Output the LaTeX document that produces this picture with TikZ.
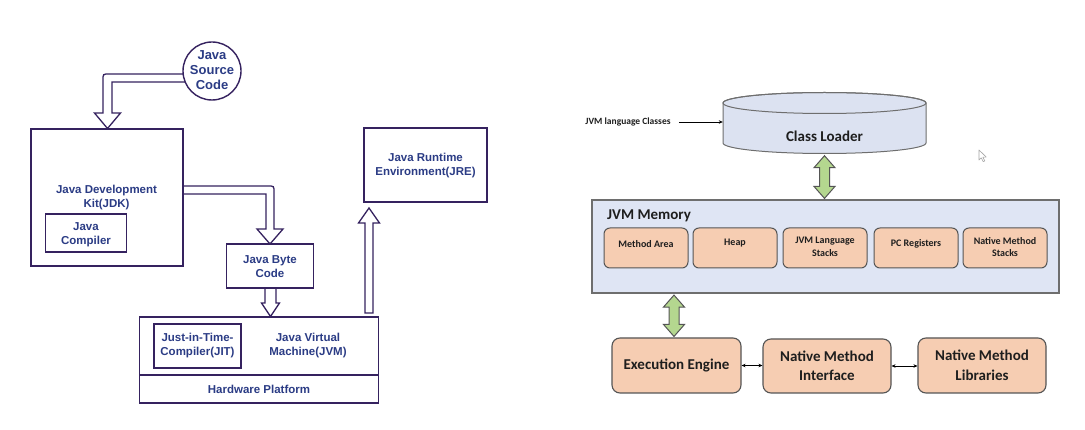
\documentclass[tikz,border=0pt]{standalone}
\usepackage{fontspec}
\newfontfamily\arialf{Liberation Sans}
\newfontfamily\calib{Carlito}
\usetikzlibrary{arrows.meta,calc}
\definecolor{pline}{HTML}{35225F}
\definecolor{ptext}{HTML}{2B3C85}
\definecolor{cylfill}{HTML}{DCE2F1}
\definecolor{memfill}{HTML}{DFE5F4}
\definecolor{memline}{HTML}{6E6E6E}
\definecolor{salmon}{HTML}{F6CDB2}
\definecolor{salline}{HTML}{555555}
\definecolor{arrowgreen}{HTML}{B4D78F}
\definecolor{txt}{HTML}{1E1E1E}

% vertical double-headed block arrow between two points with the same x
\newcommand{\greenlink}[2]{%
  \draw[greenarr] (#1) -- ($(#1)+(10.5,12)$) -- ($(#1)+(5,12)$) -- ($(#2)+(5,-12)$)
    -- ($(#2)+(10.5,-12)$) -- (#2) -- ($(#2)+(-10.5,-12)$) -- ($(#2)+(-5,-12)$)
    -- ($(#1)+(-5,12)$) -- ($(#1)+(-10.5,12)$) -- cycle;}

\begin{document}
\begin{tikzpicture}[x=1pt,y=-1pt,
  pbox/.style={draw=pline, line width=1.4pt, fill=white, inner sep=0pt},
  ptxt/.style={text=ptext, font=\arialf\bfseries\fontsize{11.5}{14}\selectfont, align=center, inner sep=0pt},
  hollow/.style={draw=pline, line width=1.3pt, fill=white, line join=miter},
  membox/.style={draw=salline, line width=1pt, fill=salmon, rounded corners=6pt,
    minimum width=84pt, minimum height=40pt, inner sep=0pt},
  memtxt/.style={font=\calib\bfseries\fontsize{10}{12.5}\selectfont, text=txt, align=center, inner sep=0pt},
  bigbox/.style={draw=salline, line width=1.1pt, fill=salmon, rounded corners=8pt,
    minimum width=128pt, minimum height=55pt, inner sep=0pt,
    font=\calib\bfseries\fontsize{15}{19.5}\selectfont, text=txt, align=center},
  greenarr/.style={draw=salline, line width=1pt, fill=arrowgreen, line join=miter},
  thinarr/.style={draw=black, line width=0.6pt, {Stealth[length=4pt,width=3.5pt]}-{Stealth[length=4pt,width=3.5pt]}}
]
\useasboundingbox (0,0) rectangle (1085,430);
\fill[white] (0,0) rectangle (1085,430);

% ---------- compilation and execution flow ----------
% block arrows (drawn first, boxes cover their tails)
\draw[hollow] (195,74) -- (109,74) .. controls (103,74) .. (103,80) -- (103,113)
  -- (94.5,113) -- (107.5,128.5) -- (120.5,113) -- (112,113) -- (112,82) -- (195,82) -- cycle;
\draw[hollow] (175,186) -- (268,186) .. controls (274,186) .. (274,192) -- (274,229)
  -- (283,229) -- (270,244) -- (257,229) -- (266,229) -- (266,194) -- (175,194) -- cycle;
\draw[hollow] (265,285) -- (265,303) -- (261.5,303) -- (270.5,316.5) -- (279.5,303)
  -- (276,303) -- (276,285) -- cycle;
\draw[hollow] (365,313) -- (365,223) -- (358.5,223) -- (369,208) -- (379.5,223)
  -- (373,223) -- (373,313) -- cycle;

\node[pbox, circle, minimum size=58pt] (src) at (212,71) {};
\node[ptxt, font=\arialf\bfseries\fontsize{13}{15}\selectfont] (srct) at (212,70) {Java\\Source\\Code};

\node[pbox, minimum width=152pt, minimum height=137pt] (jdk) at (107,197.5) {};
\node[ptxt] (jdkt) at (106.5,198) {Java Development\\Kit(JDK)};
\node[pbox, minimum width=80.5pt, minimum height=38pt] (jc) at (86,233) {};
\node[ptxt] (jct) at (86,234.5) {Java\\Compiler};

\node[pbox, minimum width=86.5pt, minimum height=44pt] (jbc) at (270,266) {};
\node[ptxt] (jbct) at (270,266.5) {Java Byte\\Code};

\node[pbox, minimum width=239pt, minimum height=86pt] (jvm) at (259,360) {};
\coordinate (hwl) at (139.5,375);
\coordinate (hwr) at (378.5,375);
\draw[pline, line width=1.4pt] (hwl) -- (hwr);
\node[pbox, minimum width=87pt, minimum height=44pt] (jit) at (197.5,346) {};
\node[ptxt] (jitt) at (197.5,346) {Just-in-Time-\\Compiler(JIT)};
\node[ptxt] (jvmt) at (308,346) {Java Virtual\\Machine(JVM)};
\node[ptxt] (hwt) at (259,389) {Hardware Platform};

\node[pbox, minimum width=123pt, minimum height=74pt] (jre) at (425.5,165) {};
\node[ptxt] (jret) at (425.5,165.5) {Java Runtime\\Environment(JRE)};

% ---------- JVM architecture ----------
% class loader drum
\node[inner sep=0pt, minimum width=203pt, minimum height=62pt] (cl) at (824.5,123) {};
\path[draw=memline, line width=1pt, fill=cylfill] (723,103) -- (723,143)
  arc[start angle=180, end angle=360, x radius=101.5pt, y radius=10.5pt] -- (926,103)
  arc[start angle=0, end angle=180, x radius=101.5pt, y radius=10.5pt] -- cycle;
\draw[memline, line width=1pt] (824.5,103) ellipse [x radius=101.5pt, y radius=10.5pt];
\node[font=\calib\bfseries\fontsize{15}{18}\selectfont, text=txt, inner sep=0pt] (clt) at (824.5,136) {Class Loader};

\node[font=\calib\bfseries\fontsize{9.5}{11}\selectfont, text=txt, inner sep=0pt] (jlc) at (628,122) {JVM language Classes};
\draw[black, line width=0.6pt, -{Stealth[length=4pt,width=3.5pt]}] ($(jlc.east)+(8,0)$) -- (cl.west |- jlc.east);

% memory areas
\node[draw=memline, line width=1.2pt, fill=memfill, minimum width=467pt, minimum height=93pt, inner sep=0pt] (mem) at (825.5,246.5) {};
\node[font=\calib\bfseries\fontsize{15}{18}\selectfont, text=txt, inner sep=0pt, anchor=west] (memt) at (607,216) {JVM Memory};

\node[membox] (m1) at (646,248) {};
\node[membox] (m2) at (735,248) {};
\node[membox] (m3) at (825,248) {};
\node[membox] (m4) at (916,248) {};
\node[membox] (m5) at (1005,248) {};
\node[memtxt] (m1t) at (646,244) {Method Area};
\node[memtxt] (m2t) at (735,243.5) {Heap};
\node[memtxt] (m3t) at (825,247) {JVM Language\\Stacks};
\node[memtxt] (m4t) at (916,244) {PC Registers};
\node[memtxt] (m5t) at (1005,247) {Native Method\\Stacks};

% execution side
\node[bigbox, minimum width=129pt] (ee) at (676.5,365.5) {Execution Engine};
\node[bigbox, minimum height=54pt] (nmi) at (827,366) {Native Method\\Interface};
\node[bigbox] (nml) at (982,365.5) {Native Method\\Libraries};

\draw[thinarr] (ee.east) -- (nmi.west |- ee.east);
\draw[thinarr] (nmi.east) -- (nml.west |- nmi.east);

% links between class loader, memory and engine
\coordinate (g1a) at ($(cl.south)+(0,1.5)$);
\coordinate (g1b) at ($(mem.north -| cl.south)+(0,-1)$);
\greenlink{g1a}{g1b}
\coordinate (g2b) at ($(ee.north)+(-2.5,-1)$);
\coordinate (g2a) at ($(mem.south -| g2b)+(0,1.5)$);
\greenlink{g2a}{g2b}

% mouse pointer
\draw[gray!70, line width=0.6pt, fill=white, line join=round] (979,150) -- (979,160) -- (981.3,157.8)
  -- (983.2,161.6) -- (984.8,160.9) -- (982.9,157.2) -- (986.2,157) -- cycle;
\end{tikzpicture}
\end{document}
